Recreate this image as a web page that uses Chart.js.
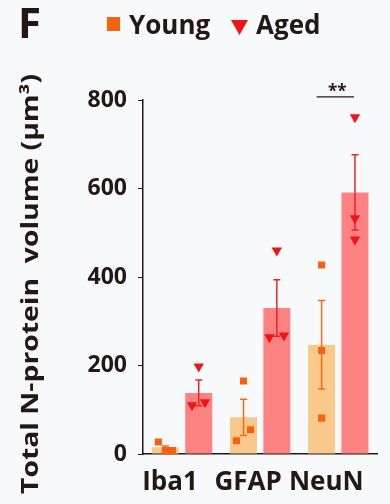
<!DOCTYPE html>
<html><head><meta charset="utf-8">
<script src="https://cdn.jsdelivr.net/npm/chart.js@4.4.1/dist/chart.umd.min.js"></script>
<style>html,body{margin:0;padding:0;background:#f8f9fb;}canvas{display:block;}</style>
</head><body>
<canvas id="c" width="390" height="504"></canvas>
<script>
// ---- data ----
const categories = ['Iba1', 'GFAP', 'NeuN'];
const youngMean = [15, 83, 247];
const agedMean = [138, 330, 591];
const youngSem = [3, 41, 100];
const agedSem = [29, 64, 85];
const youngPoints = [[27, 8, 8], [165, 30, 55], [427, 234, 81]];
const agedPoints = [[198, 110, 117], [460, 264, 268], [761, 533, 485]];
const youngJitter = [[-0.09, 0, 0.09], [0, -0.09, 0.09], [0, 0, 0]];
const agedJitter = [[0, -0.085, 0.08], [0, -0.095, 0.09], [0, 0, 0]];
const yTicks = [0, 200, 400, 600, 800];
const seriesNames = ['Young', 'Aged'];
const panelLabel = 'F';
const yTitle = 'Total N-protein  volume (\u03bcm\u00b3)';
const sigLabel = '**';
const sigCategory = 2;

// ---- styles ----
const TEXT = '#231815';
const FONT = "'Open Sans', sans-serif";
const C = {
  youngBar: '#f9c98b', agedBar: '#ff8282',
  youngPt: '#f8620e', agedPt: '#f21414',
  youngErr: '#f26b1d', agedErr: '#e8262e'
};
const CAT_PCT = 0.853, BAR_PCT = 0.81;
const groupOffset = CAT_PCT / 4;

function scatterData(points, jitter, sign) {
  const out = [];
  points.forEach((vals, i) => vals.forEach((v, j) => {
    out.push({ x: i + sign * groupOffset + jitter[i][j], y: v });
  }));
  return out;
}
const barData = means => means.map((v, i) => ({ x: i, y: v }));

const errorBars = {
  id: 'errorBars',
  afterDatasetDraw(chart, args) {
    const ds = chart.data.datasets[args.index];
    if (!ds.sem) return;
    const y = chart.scales.y, ctx = chart.ctx;
    ctx.save();
    ctx.strokeStyle = ds.errColor;
    ctx.lineWidth = 1.5;
    args.meta.data.forEach((bar, i) => {
      const m = ds.data[i].y;
      const yt = y.getPixelForValue(m + ds.sem[i]);
      const yb = y.getPixelForValue(m - ds.sem[i]);
      ctx.beginPath();
      ctx.moveTo(bar.x, yt); ctx.lineTo(bar.x, yb);
      ctx.moveTo(bar.x - 3.5, yt); ctx.lineTo(bar.x + 3.5, yt);
      ctx.moveTo(bar.x - 3.5, yb); ctx.lineTo(bar.x + 3.5, yb);
      ctx.stroke();
    });
    ctx.restore();
  }
};

const decorations = {
  id: 'decorations',
  afterDraw(chart) {
    const ctx = chart.ctx;
    ctx.save();
    ctx.fillStyle = TEXT;
    ctx.textBaseline = 'alphabetic';
    ctx.textAlign = 'left';
    ctx.font = "bold 42px " + FONT;
    ctx.fillText(panelLabel, 18, 38);
    // legend
    ctx.font = "bold 26px " + FONT;
    ctx.fillStyle = C.youngPt;
    ctx.fillRect(107, 17, 13, 14);
    ctx.fillStyle = TEXT;
    ctx.fillText(seriesNames[0], 129, 34);
    ctx.fillStyle = C.agedPt;
    ctx.beginPath();
    ctx.moveTo(231, 20); ctx.lineTo(248, 20); ctx.lineTo(239.5, 35); ctx.closePath();
    ctx.fill();
    ctx.fillStyle = TEXT;
    ctx.fillText(seriesNames[1], 256, 34);
    // y-axis title (stretched along its length like the reference)
    ctx.save();
    ctx.font = "bold 23px " + FONT;
    const w = ctx.measureText(yTitle).width;
    ctx.translate(38, 284);
    ctx.rotate(-Math.PI / 2);
    ctx.scale(420 / w, 1);
    ctx.textAlign = 'center';
    ctx.fillStyle = TEXT;
    ctx.fillText(yTitle, 0, 0);
    ctx.restore();
    // significance bracket
    const yb = chart.getDatasetMeta(2).data[sigCategory];
    const ob = chart.getDatasetMeta(3).data[sigCategory];
    const yPix = chart.scales.y.getPixelForValue(807);
    ctx.strokeStyle = TEXT;
    ctx.lineWidth = 1.2;
    ctx.beginPath();
    ctx.moveTo(yb.x - 5, yPix); ctx.lineTo(ob.x - 1, yPix);
    ctx.stroke();
    ctx.font = "bold 17px " + FONT;
    ctx.textAlign = 'center';
    ctx.fillText(sigLabel, (yb.x + ob.x) / 2 - 1, yPix);
    ctx.restore();
  }
};

new Chart(document.getElementById('c'), {
  type: 'bar',
  data: {
    datasets: [
      { type: 'scatter', label: seriesNames[0], data: scatterData(youngPoints, youngJitter, -1),
        order: 1, pointStyle: 'rect', pointRadius: 5, pointBackgroundColor: C.youngPt, pointBorderWidth: 0 },
      { type: 'scatter', label: seriesNames[1], data: scatterData(agedPoints, agedJitter, 1),
        order: 1, pointStyle: 'triangle', pointRotation: 180, pointRadius: 6,
        pointBackgroundColor: C.agedPt, pointBorderWidth: 0 },
      { type: 'bar', label: seriesNames[0], data: barData(youngMean), sem: youngSem, errColor: C.youngErr,
        order: 2, backgroundColor: C.youngBar, categoryPercentage: CAT_PCT, barPercentage: BAR_PCT },
      { type: 'bar', label: seriesNames[1], data: barData(agedMean), sem: agedSem, errColor: C.agedErr,
        order: 2, backgroundColor: C.agedBar, categoryPercentage: CAT_PCT, barPercentage: BAR_PCT }
    ]
  },
  options: {
    responsive: false,
    animation: false,
    devicePixelRatio: 1,
    layout: { padding: { top: 100, right: 8, bottom: 0, left: 0 } },
    plugins: { legend: { display: false }, tooltip: { enabled: false } },
    scales: {
      x: {
        type: 'linear', min: -0.5, max: 2.5, offset: false,
        afterBuildTicks(s) { s.ticks = categories.map((c, i) => ({ value: i })); },
        grid: { display: false, drawTicks: false },
        border: { display: true, color: TEXT, width: 1.5 },
        ticks: { color: TEXT, font: { family: FONT, weight: 'bold', size: 26 }, padding: 13,
                 labelOffset: -12, maxRotation: 0, autoSkip: false,
                 callback: v => categories[v] },
        afterFit(s) { s.height = 50; }
      },
      y: {
        min: 0, max: 800,
        afterBuildTicks(s) { s.ticks = yTicks.map(v => ({ value: v })); },
        grid: { display: true, drawOnChartArea: false, drawTicks: true, tickLength: 5, color: TEXT, lineWidth: 1 },
        border: { display: true, color: TEXT, width: 1.5 },
        ticks: { color: TEXT, font: { family: FONT, weight: 'bold', size: 23 }, padding: 11 },
        title: { display: false },
        afterFit(s) { s.width = 143; }
      }
    }
  },
  plugins: [errorBars, decorations]
});
</script>
</body></html>
